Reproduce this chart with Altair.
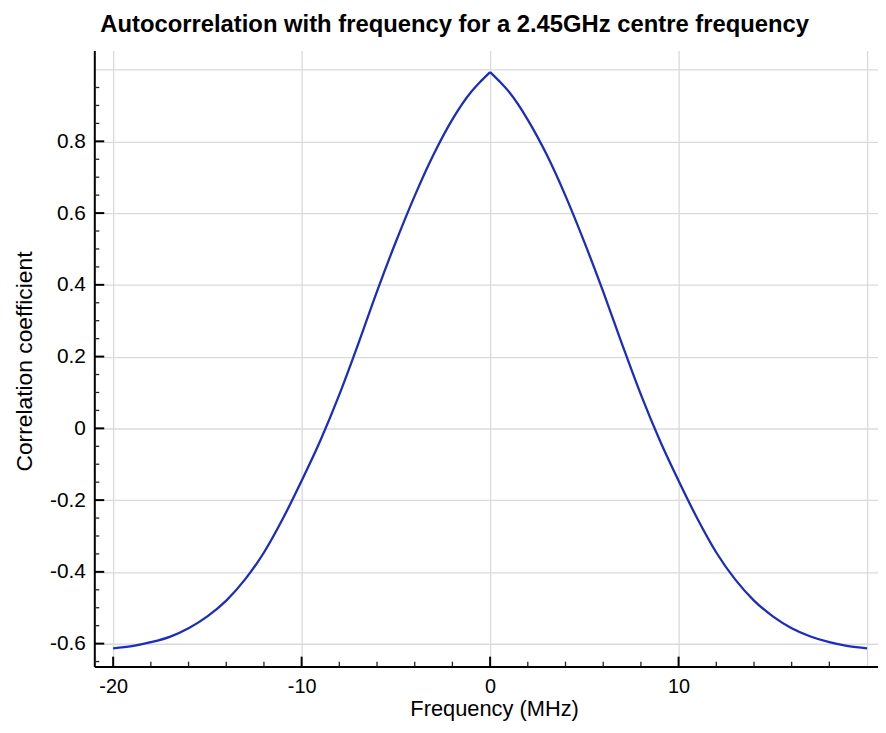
import altair as alt
import pandas as pd

# Curve (left half and right half share the peak at 0)
freq_left = [-20, -19, -18, -17, -16, -15, -14, -13, -12, -11, -10, -9, -8, -7, -6, -5,
             -4, -3, -2, -1, -0.5, 0]
corr_left = [-0.613, -0.607, -0.596, -0.581, -0.557, -0.524, -0.480, -0.421, -0.346,
             -0.252, -0.146, -0.033, 0.094, 0.235, 0.382, 0.520, 0.648, 0.763, 0.861,
             0.938, 0.967, 0.993]
freq_right = [0, 0.5, 1, 2, 3, 4, 5, 6, 7, 8, 9, 10, 11, 12, 13, 14, 15, 16, 17, 18, 19, 20]
corr_right = [0.993, 0.967, 0.938, 0.860, 0.763, 0.648, 0.519, 0.381, 0.235, 0.094,
              -0.033, -0.146, -0.252, -0.346, -0.421, -0.480, -0.524, -0.557, -0.580,
              -0.596, -0.607, -0.613]

# Axis tick values
x_grid = [-20, -10, 0, 10, 20]
x_major = [-20, -10, 0, 10]
x_minor = [-18, -16, -14, -12, -8, -6, -4, -2, 2, 4, 6, 8, 12, 14, 16, 18]
y_grid = [-0.6, -0.4, -0.2, 0, 0.2, 0.4, 0.6, 0.8, 1.0]
y_major = [-0.6, -0.4, -0.2, 0, 0.2, 0.4, 0.6, 0.8]
y_minor = [-0.65, -0.55, -0.5, -0.45, -0.35, -0.3, -0.25, -0.15, -0.1, -0.05,
           0.05, 0.1, 0.15, 0.25, 0.3, 0.35, 0.45, 0.5, 0.55, 0.65, 0.7, 0.75,
           0.85, 0.9, 0.95]

W, H = 790, 621
FONT = "Liberation Sans"

xs = alt.Scale(domain=[-21.0, 20.58], nice=False, zero=False)
ys = alt.Scale(domain=[-0.664, 1.053], nice=False, zero=False)

df = pd.concat([
    pd.DataFrame({"f": freq_left, "c": corr_left, "side": "L"}),
    pd.DataFrame({"f": freq_right, "c": corr_right, "side": "R"}),
], ignore_index=True)

x_axis = alt.Axis(
    values=x_grid, labelExpr="datum.value > 15 ? '' : '' + datum.value",
    title="Frequency (MHz)", titleX=403, titleY=49, titleBaseline="alphabetic",
    titleFontSize=22, titleFontWeight="normal", titleFont=FONT, titleColor="black",
    labelFontSize=20, labelFont=FONT, labelColor="black", labelPadding=10,
    labelFlush=False, labelOverlap=False,
    ticks=False, domain=True, domainColor="black", domainWidth=2,
    grid=True, gridColor="#dadada", gridWidth=1.3)
y_axis = alt.Axis(
    values=y_grid, labelExpr="datum.value > 0.9 ? '' : '' + datum.value",
    title="Correlation coefficient", titleX=-63, titleY=313, titleBaseline="alphabetic",
    titleAngle=270, titleAlign="center",
    titleFontSize=23, titleFontWeight="normal", titleFont=FONT, titleColor="black",
    labelFontSize=21, labelFont=FONT, labelColor="black", labelPadding=9,
    labelOverlap=False, labelFlush=False,
    ticks=False, domain=True, domainColor="black", domainWidth=2,
    grid=True, gridColor="#dadada", gridWidth=1.3)

line = alt.Chart(df).mark_line(color="#1c2dbd", strokeWidth=2.3, interpolate="monotone").encode(
    x=alt.X("f:Q", scale=xs, axis=x_axis),
    y=alt.Y("c:Q", scale=ys, axis=y_axis),
    detail="side:N",
)

xmaj = alt.Chart(pd.DataFrame({"f": x_major})).mark_rule(color="black", strokeWidth=2).encode(
    x=alt.X("f:Q", scale=xs, axis=x_axis), y=alt.value(H), y2=alt.value(H - 10))
xmin = alt.Chart(pd.DataFrame({"f": x_minor})).mark_rule(color="#222", strokeWidth=1.3).encode(
    x=alt.X("f:Q", scale=xs, axis=x_axis), y=alt.value(H), y2=alt.value(H - 5))
ymaj = alt.Chart(pd.DataFrame({"c": y_major})).mark_rule(color="black", strokeWidth=2).encode(
    y=alt.Y("c:Q", scale=ys, axis=y_axis), x=alt.value(0), x2=alt.value(10))
ymin = alt.Chart(pd.DataFrame({"c": y_minor})).mark_rule(color="#222", strokeWidth=1.3).encode(
    y=alt.Y("c:Q", scale=ys, axis=y_axis), x=alt.value(0), x2=alt.value(5))

chart = alt.layer(line, xmaj, xmin, ymaj, ymin).properties(
    width=W, height=H,
    title=alt.TitleParams(
        "Autocorrelation with frequency for a 2.45GHz centre frequency",
        anchor="start", frame="group", dx=6, offset=14,
        fontSize=24, fontWeight="bold", font=FONT, color="black"),
    autosize=alt.AutoSizeParams(type="none"),
    padding={"left": 87, "top": 40, "right": 0, "bottom": 56},
).configure(background="white").configure_view(stroke=None)

chart.save("out.html", embed_options={"renderer": "svg", "actions": False})
